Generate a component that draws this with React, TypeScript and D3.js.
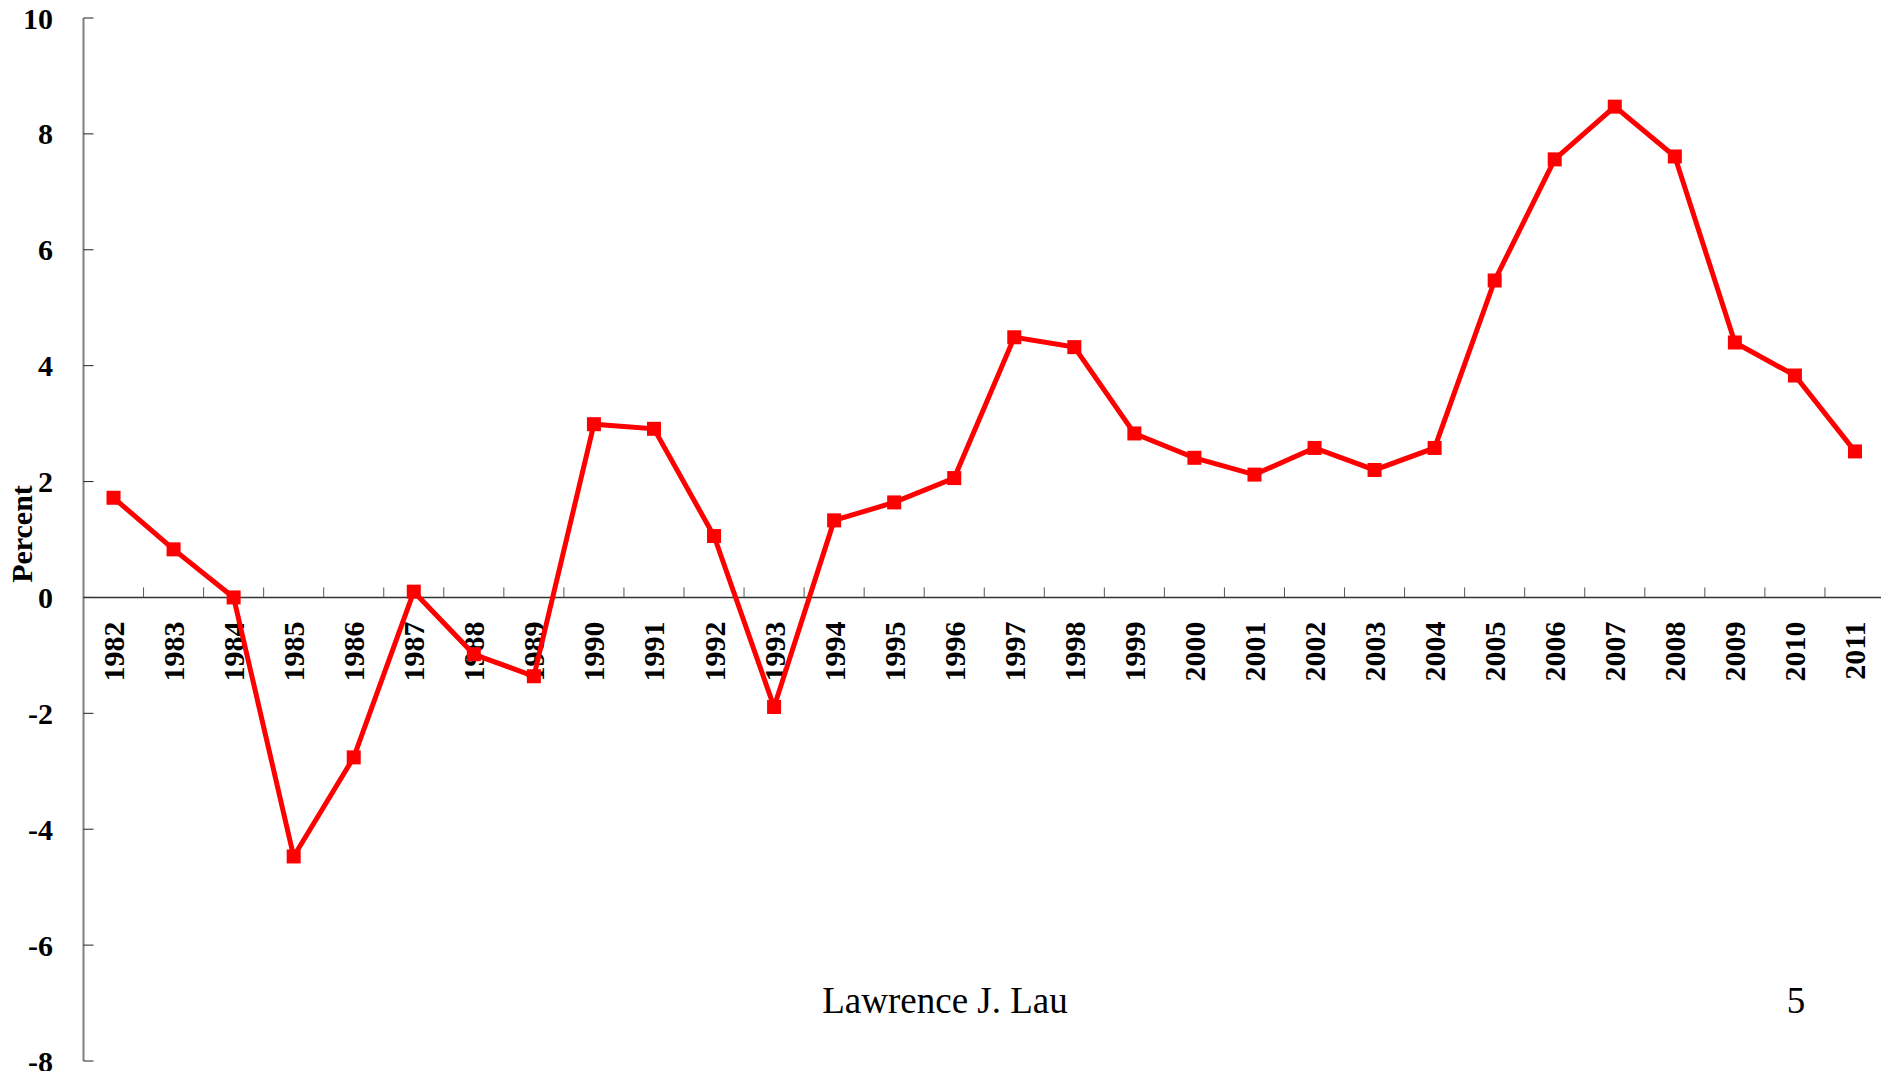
import React, { useEffect, useRef } from 'react';
import * as d3 from 'd3';

const years = [
  '1982', '1983', '1984', '1985', '1986', '1987', '1988', '1989', '1990', '1991',
  '1992', '1993', '1994', '1995', '1996', '1997', '1998', '1999', '2000', '2001',
  '2002', '2003', '2004', '2005', '2006', '2007', '2008', '2009', '2010', '2011',
];
const percent = [
  1.72, 0.83, 0.0, -4.47, -2.76, 0.1, -0.98, -1.36, 2.99, 2.91,
  1.06, -1.89, 1.33, 1.64, 2.06, 4.49, 4.32, 2.83, 2.41, 2.12,
  2.58, 2.2, 2.58, 5.47, 7.56, 8.47, 7.61, 4.4, 3.83, 2.52,
];
const yTicks = [-8, -6, -4, -2, 0, 2, 4, 6, 8, 10];
const footerLeft = 'Lawrence J. Lau';
const footerRight = '5';

export default function App() {
  const ref = useRef<SVGSVGElement>(null);

  useEffect(() => {
    const width = 1881;
    const height = 1071;
    const left = 83.5;
    const svg = d3.select(ref.current);
    svg.selectAll('*').remove();

    const x = d3.scaleBand<string>().domain(years).range([left, left + 30 * 60.05]);
    const y = d3.scaleLinear().domain([-8, 10]).range([1061, 18]);
    const font = '"Liberation Serif", "Times New Roman", serif';

    // y axis
    svg.append('line')
      .attr('x1', left).attr('x2', left)
      .attr('y1', y(10)).attr('y2', y(-8))
      .attr('stroke', '#808080').attr('stroke-width', 2);
    svg.selectAll('.ytick')
      .data(yTicks)
      .enter().append('line')
        .attr('x1', left).attr('x2', left + 10)
        .attr('y1', d => y(d)).attr('y2', d => y(d))
        .attr('stroke', '#222').attr('stroke-width', 1);
    svg.selectAll('.ylab')
      .data(yTicks)
      .enter().append('text')
        .attr('x', 53).attr('y', d => y(d))
        .attr('dy', '0.35em')
        .attr('text-anchor', 'end')
        .style('font-family', font).style('font-size', '30px').style('font-weight', 'bold')
        .text(d => d);

    // x axis at zero
    svg.append('line')
      .attr('x1', left).attr('x2', width)
      .attr('y1', y(0)).attr('y2', y(0))
      .attr('stroke', '#333').attr('stroke-width', 1.5);
    svg.selectAll('.xtick')
      .data(years.slice(1))
      .enter().append('line')
        .attr('x1', d => x(d)!).attr('x2', d => x(d)!)
        .attr('y1', y(0)).attr('y2', y(0) - 10)
        .attr('stroke', '#555').attr('stroke-width', 1);
    svg.selectAll('.xlab')
      .data(years)
      .enter().append('text')
        .attr('transform', d => `translate(${x(d)! + x.bandwidth() / 2},${y(0) + 24}) rotate(-90)`)
        .attr('dy', '0.35em')
        .attr('text-anchor', 'end')
        .style('font-family', font).style('font-size', '30px').style('font-weight', 'bold')
        .text(d => d);

    // axis title
    svg.append('text')
      .attr('transform', `translate(21,${534}) rotate(-90)`)
      .attr('dy', '0.35em')
      .attr('text-anchor', 'middle')
      .style('font-family', font).style('font-size', '30px').style('font-weight', 'bold')
      .text('Percent');

    // series
    const pts = years.map((d, i) => [x(d)! + x.bandwidth() / 2, y(percent[i])] as [number, number]);
    svg.append('path')
      .attr('d', d3.line()(pts))
      .attr('fill', 'none')
      .attr('stroke', '#ff0000')
      .attr('stroke-width', 5)
      .attr('stroke-linejoin', 'miter');
    svg.selectAll('.mark')
      .data(pts)
      .enter().append('rect')
        .attr('x', d => d[0] - 7).attr('y', d => d[1] - 7)
        .attr('width', 14).attr('height', 14)
        .attr('fill', '#ff0000');

    // footer
    svg.append('text')
      .attr('x', 945).attr('y', 1013)
      .attr('text-anchor', 'middle')
      .style('font-family', font).style('font-size', '37px')
      .text(footerLeft);
    svg.append('text')
      .attr('x', 1796).attr('y', 1013)
      .attr('text-anchor', 'middle')
      .style('font-family', font).style('font-size', '37px')
      .text(footerRight);

    svg.attr('width', width).attr('height', height);
  }, []);

  return (
    <div>
      <svg ref={ref} width={1881} height={1071}
        style={{ position: 'absolute', left: 0, top: 0, display: 'block', background: '#fff' }} />
    </div>
  );
}
